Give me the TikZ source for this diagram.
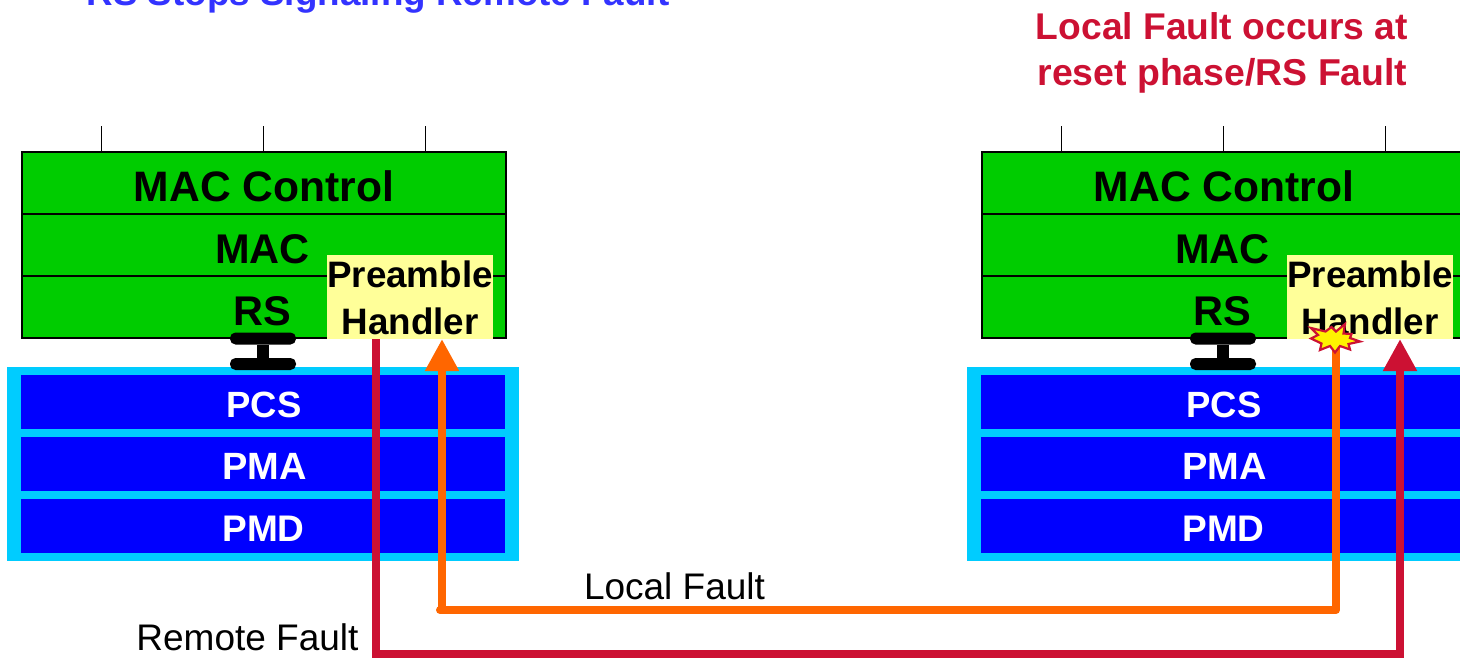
\documentclass[tikz,border=0pt]{standalone}
\usepackage{fontspec}
\setmainfont{Liberation Sans}
\usetikzlibrary{arrows.meta}
\definecolor{macgreen}{HTML}{00CC00}
\definecolor{phyframe}{HTML}{00CCFF}
\definecolor{phyblue}{HTML}{0000FF}
\definecolor{handleryellow}{HTML}{FFFF99}
\definecolor{faultred}{HTML}{CC1133}
\definecolor{faultorange}{HTML}{FF6600}
\definecolor{titleblue}{HTML}{3333FF}
\tikzset{
  x=1pt,y=-1pt,
  every node/.style={inner sep=0pt,outer sep=0pt},
  macrow/.style={draw=black,line width=2pt,fill=macgreen,minimum width=484pt,minimum height=62pt},
  phyframebox/.style={fill=phyframe,minimum width=512pt,minimum height=194pt},
  phyrow/.style={fill=phyblue,minimum width=484pt,minimum height=54pt},
  ticknode/.style={line width=1.6pt,black},
  blackbold/.style={anchor=base,text=black,font=\bfseries\fontsize{41.5}{46}\selectfont},
  whitebold/.style={anchor=base,text=white,font=\bfseries\fontsize{#1}{42}\selectfont},
  handler/.style={fill=handleryellow,minimum width=166pt,minimum height=84pt,align=center,
    text=black,font=\bfseries\fontsize{36.8}{47}\selectfont},
  ibar/.style={fill=black,rounded corners=5.5pt,minimum width=66pt,minimum height=12pt},
  istem/.style={line width=12pt,black},
  faultline/.style={line width=8pt,faultred},
  localline/.style={line width=8pt,faultorange,line cap=round,line join=round},
  bigtip/.style={-{Triangle[length=32pt,width=32pt]}},
  plainlabel/.style={anchor=base,text=black,font=\fontsize{37}{42}\selectfont},
  titlelabel/.style={anchor=base,font=\bfseries\fontsize{#1}{42}\selectfont},
}
\newcommand{\stationstack}[2]{%
  \begin{scope}[xshift=#2pt]
    \node[phyframebox] (#1frame) at (263,464) {};
    \node[phyrow] (#1pcs) at (263,402) {};
    \node[phyrow] (#1pma) at (263,464) {};
    \node[phyrow] (#1pmd) at (263,526) {};
    \node[whitebold=36.5] (#1pcst) at (264,417) {PCS};
    \node[whitebold=38] (#1pmat) at (264.5,479) {PMA};
    \node[whitebold=37] (#1pmdt) at (263.5,541) {PMD};
    \node[macrow] (#1ctl) at (263.5,183) {};
    \node[macrow] (#1mac) at (263.5,245) {};
    \node[macrow] (#1rs) at (263.5,307) {};
    \coordinate (#1ta) at (101.3,126);
    \coordinate (#1tb) at (263.3,126);
    \coordinate (#1tc) at (425.3,126);
    \draw[ticknode] (#1ta) -- (#1ta |- #1ctl.north);
    \draw[ticknode] (#1tb) -- (#1tb |- #1ctl.north);
    \draw[ticknode] (#1tc) -- (#1tc |- #1ctl.north);
    \node[blackbold,font=\bfseries\fontsize{42.6}{46}\selectfont] (#1ctlt) at (264,201) {MAC Control};
    \node[blackbold] (#1mact) at (262.5,263) {MAC};
    \node[blackbold] (#1rst) at (262.5,325) {RS};
    \node[ibar] (#1ibt) at (263,338.5) {};
    \node[ibar] (#1ibb) at (263,364) {};
    \draw[istem] (#1ibt) -- (#1ibb);
    \node[handler] (#1ph) at (410,297) {\rule{0pt}{29pt}Preamble\\Handler};
  \end{scope}%
}
\begin{document}
\begin{tikzpicture}
\useasboundingbox (0,0) rectangle (1460,657);
\begin{scope}
\clip (0,0) rectangle (1460,657);
\stationstack{L}{0}
\stationstack{R}{960}
\node[titlelabel=36.8,text=titleblue] (ttl) at (378,5) {RS Stops Signaling Remote Fault};
\node[titlelabel=37.2,text=faultred] (ttra) at (1222,39) {Local Fault occurs at};
\node[titlelabel=37.4,text=faultred] (ttrb) at (1222.5,85) {reset phase/RS Fault};
\node[plainlabel] (lf) at (674.5,599) {Local Fault};
\node[plainlabel] (rf) at (247.5,650) {Remote Fault};
% connectors
\coordinate (redstart) at (376,339);
\coordinate (redend) at (1400,339);
\coordinate (orstart) at (1336,339);
\coordinate (orend) at (442,339);
\draw[faultline,bigtip] (redstart) -- (376,654) -- (1400,654) -- (redend);
\draw[localline] (orstart) -- (1336,610) -- (440,610);
\draw[faultorange,line width=8pt,bigtip] (442,610) -- (orend);
% burst
\draw[fill=yellow,draw=faultred,line width=2.2pt,line join=miter]
  (1311,328) -- (1325.5,331.5) -- (1331.5,327) -- (1336,331.5) -- (1345,324) -- (1343.5,333.5)
  -- (1351.5,334) -- (1350,338) -- (1360,341.5) -- (1348.5,344) -- (1350,349.5) -- (1340,346)
  -- (1335,352.5) -- (1330,346) -- (1320,350) -- (1321.5,343.5) -- (1311,338.5) -- (1318,335) -- cycle;
\end{scope}
\end{tikzpicture}
\end{document}
